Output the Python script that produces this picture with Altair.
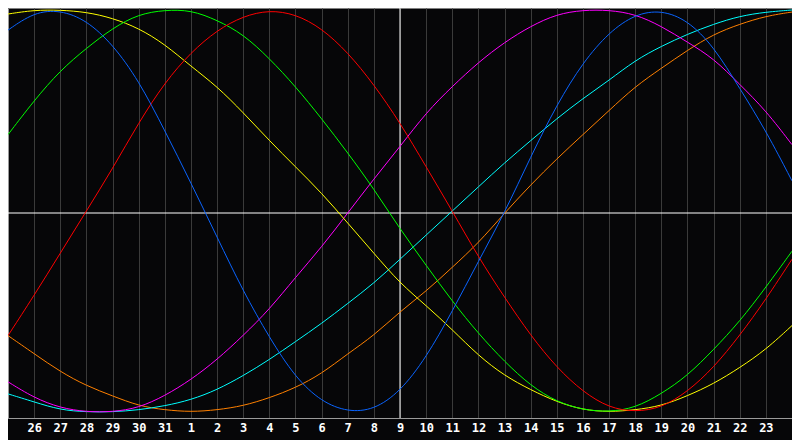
import json
import altair as alt
import pandas as pd

# day index 0..30 (one per calendar day), labels under the grid lines
day_labels = ["25", "26", "27", "28", "29", "30", "31",
              "1", "2", "3", "4", "5", "6", "7", "8", "9", "10", "11", "12",
              "13", "14", "15", "16", "17", "18", "19", "20", "21", "22", "23", "24"]
steps = list(range(31))

# values (percent, -100..100), one per day
blue = [90, 99, 100, 95, 83, 65, 40, 14, -13, -40, -63, -83, -95, -100, -99, -90,
        -73, -50, -25, -1, 27, 53, 74, 89, 98, 100, 95, 82, 61, 40, 15]
red = [-62, -42, -21, 0, 21, 44, 64, 79, 90, 97, 100, 98, 91, 79, 63, 44,
       22, 0, -23, -43, -62, -78, -90, -98, -100, -98, -90, -78, -62, -44, -24]
green = [38, 55, 70, 81, 91, 98, 100, 100, 95, 88, 76, 62, 46, 29, 11, -9,
         -27, -45, -61, -75, -87, -95, -99, -100, -98, -91, -82, -69, -55, -38, -20]
yellow = [98, 100, 100, 99, 96, 91, 83, 72, 62, 49, 35, 22, 9, -6, -21, -36,
          -47, -59, -72, -82, -89, -95, -99, -100, -99, -97, -92, -86, -78, -69, -57]
magenta = [-85, -93, -98, -100, -100, -98, -92, -84, -74, -62, -49, -33, -18, -1, 16, 32,
           49, 62, 74, 84, 92, 98, 100, 100, 98, 92, 84, 76, 63, 50, 33]
cyan = [-91, -95, -99, -100, -100, -99, -97, -94, -89, -82, -74, -65, -56, -46, -36, -24,
        -12, 0, 12, 24, 35, 46, 56, 65, 75, 82, 88, 93, 97, 99, 100]
orange = [-62, -71, -80, -87, -92, -97, -99, -100, -99, -97, -93, -88, -81, -71, -62, -50,
          -40, -28, -16, -1, 13, 26, 38, 50, 62, 71, 80, 88, 93, 97, 99]

series_names = ["orange", "cyan", "magenta", "yellow", "green", "red", "blue"]
series_values = [orange, cyan, magenta, yellow, green, red, blue]
series_colors = ["#ff8000", "#00ffff", "#ff00ff", "#ffff00", "#00ff00", "#ff0000", "#0a64ff"]

rows = []
for name, vals in zip(series_names, series_values):
    for k, v in zip(steps, vals):
        rows.append({"series": name, "k": k, "v": v})
df = pd.DataFrame(rows)

label_expr = ("datum.value >= 1 && datum.value <= 29 ? "
              + json.dumps(day_labels) + "[datum.value] : ''")

x_scale = alt.Scale(domain=[0, 30], nice=False, zero=False)
y_scale = alt.Scale(domain=[-103, 101], nice=False, zero=False)

x_axis = alt.Axis(values=steps, grid=True, gridColor="#3a3a3a", gridWidth=1,
                  ticks=False, domain=True, domainColor="#9a9a9a",
                  labelColor="#ffffff", labelFont="DejaVu Sans Mono",
                  labelFontWeight="bold", labelFontSize=12, labelPadding=4,
                  labelExpr=label_expr, labelOverlap=False, labelFlush=False,
                  title=None)
y_axis = alt.Axis(values=[], grid=False, ticks=False, labels=False,
                  domain=True, domainColor="#9a9a9a", title=None)

base = alt.Chart(df)

lines = base.mark_line(strokeWidth=1, interpolate="basis", clip=True).encode(
    x=alt.X("k:Q", scale=x_scale, axis=x_axis),
    y=alt.Y("v:Q", scale=y_scale, axis=y_axis),
    color=alt.Color("series:N", scale=alt.Scale(domain=series_names, range=series_colors),
                    legend=None),
    detail="series:N",
)

center_x = [15]
center_y = [-1]
vrule = alt.Chart(pd.DataFrame({"k": center_x})).mark_rule(color="#ffffff", strokeWidth=1).encode(
    x=alt.X("k:Q", scale=x_scale, axis=x_axis))
hrule = alt.Chart(pd.DataFrame({"v": center_y})).mark_rule(color="#ffffff", strokeWidth=1).encode(
    y=alt.Y("v:Q", scale=y_scale, axis=y_axis))

chart = alt.layer(vrule, hrule, lines).properties(
    width=784, height=410,
    autosize=alt.AutoSizeParams(type="none"),
    padding={"left": 0, "top": 0, "right": 0, "bottom": 22},
    background="#060608",
).configure_view(stroke="#808080", strokeWidth=1, fill="#060608")

chart.save("out.html", embed_options={"renderer": "svg", "actions": False})
